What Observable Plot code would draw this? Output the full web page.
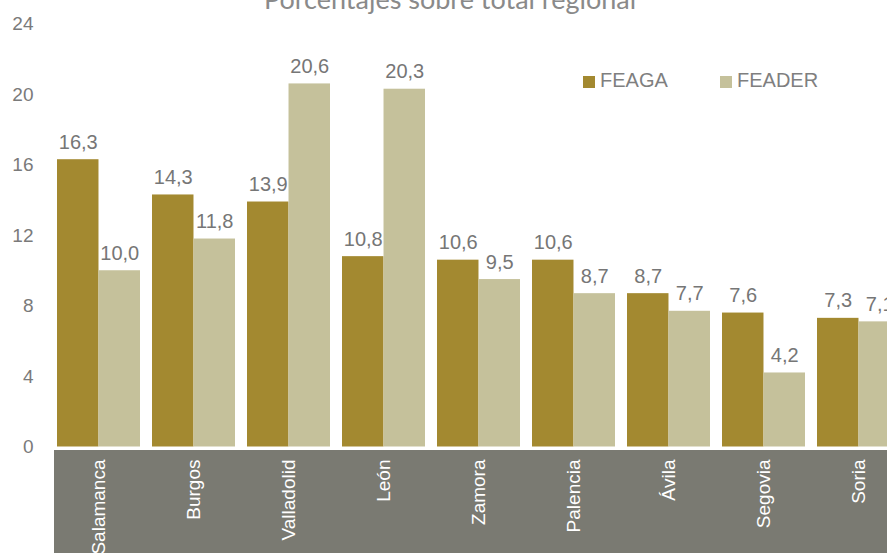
<!DOCTYPE html>
<html>
<head>
<meta charset="utf-8">
<script src="https://cdn.jsdelivr.net/npm/d3@7"></script>
<script src="https://cdn.jsdelivr.net/npm/@observablehq/plot@0.6"></script>
<style>
  html, body { margin: 0; padding: 0; background: #fff; overflow: hidden; }
  #wrap { position: relative; width: 887px; height: 553px; overflow: hidden; }
  .legend { position: absolute; top: 70px; font-family: "Liberation Sans", Arial, sans-serif; font-size: 20px; line-height: 20px; color: #7f7f7f; }
  .legend .sw { position: absolute; width: 12px; height: 12px; top: 6px; }
  .legend .lb { position: absolute; white-space: nowrap; }
</style>
</head>
<body>
<div id="wrap"></div>
<script>
const title = "Porcentajes sobre total regional";
const provinces = ["Salamanca", "Burgos", "Valladolid", "León", "Zamora", "Palencia", "Ávila", "Segovia", "Soria"];
const feaga = [16.3, 14.3, 13.9, 10.8, 10.6, 10.6, 8.7, 7.6, 7.3];
const feader = [10.0, 11.8, 20.6, 20.3, 9.5, 8.7, 7.7, 4.2, 7.1];
const series = ["FEAGA", "FEADER"];
const colors = ["#a38930", "#c5c19b"];
const yTicks = [0, 4, 8, 12, 16, 20, 24];

const W = 887, H = 553;
const ML = 45, MR = -25, MT = 23.5, MB = 106.5;
const pI = 0.126, pO = 0.126;
const step = (W - ML - MR) / (provinces.length - pI + 2 * pO);
const bw = step * (1 - pI);
const half = bw / 2;

const rows = provinces.map((p, i) => ({province: p, FEAGA: feaga[i], FEADER: feader[i]}));
const fmt = v => v.toFixed(1).replace(".", ",");
const font = "\"Liberation Sans\", Arial, sans-serif";

const plot = Plot.plot({
  width: W, height: H,
  marginLeft: ML, marginRight: MR, marginTop: MT, marginBottom: MB,
  style: {fontFamily: font, background: "transparent", overflow: "hidden"},
  x: {domain: provinces, paddingInner: pI, paddingOuter: pO, label: null},
  y: {domain: [0, 24], ticks: yTicks, label: null},
  marks: [
    Plot.barY(rows, {x: "province", y: "FEAGA", fill: colors[0], insetRight: half}),
    Plot.barY(rows, {x: "province", y: "FEADER", fill: colors[1], insetLeft: half}),
    Plot.text(rows, {x: "province", y: "FEAGA", text: d => fmt(d.FEAGA), dx: -half / 2, dy: -11, lineAnchor: "bottom", fill: "#767676", fontSize: 20, fontFamily: font}),
    Plot.text(rows, {x: "province", y: "FEADER", text: d => fmt(d.FEADER), dx: half / 2, dy: -11, lineAnchor: "bottom", fill: "#767676", fontSize: 20, fontFamily: font}),
    Plot.axisY({ticks: yTicks, tickSize: 0, tickPadding: 12, fontSize: 19, fontFamily: font, color: "#7a7a7a", tickFormat: d => String(d), label: null}),
    Plot.axisX({anchor: "bottom", tickSize: 0, tickPadding: 12.5, tickRotate: -90, fontSize: 19, fontFamily: font, color: "#ffffff", label: null}),
    Plot.text([title], {frameAnchor: "top", dx: -29, dy: -15.5, lineAnchor: "bottom", fontSize: 27, fontFamily: "Lato, sans-serif", fill: "#8a8a8a"})
  ]
});

// grey band behind the category axis
const xs = plot.scale("x"), ys = plot.scale("y");
const svg = d3.select(plot);
svg.insert("rect", ":first-child")
  .attr("x", xs.apply(provinces[0]) - 3)
  .attr("y", ys.apply(0) + 3.5)
  .attr("width", W)
  .attr("height", H)
  .attr("fill", "#7a7a72");

const wrap = document.getElementById("wrap");
wrap.appendChild(plot);

// legend
const legend = document.createElement("div");
legend.className = "legend";
wrap.appendChild(legend);
const legendX = [583, 720];
series.forEach((s, i) => {
  const sw = document.createElement("div");
  sw.className = "sw";
  sw.style.left = legendX[i] + "px";
  sw.style.background = colors[i];
  legend.appendChild(sw);
  const lb = document.createElement("div");
  lb.className = "lb";
  lb.style.left = (legendX[i] + 17) + "px";
  lb.textContent = s;
  legend.appendChild(lb);
});
</script>
</body>
</html>
